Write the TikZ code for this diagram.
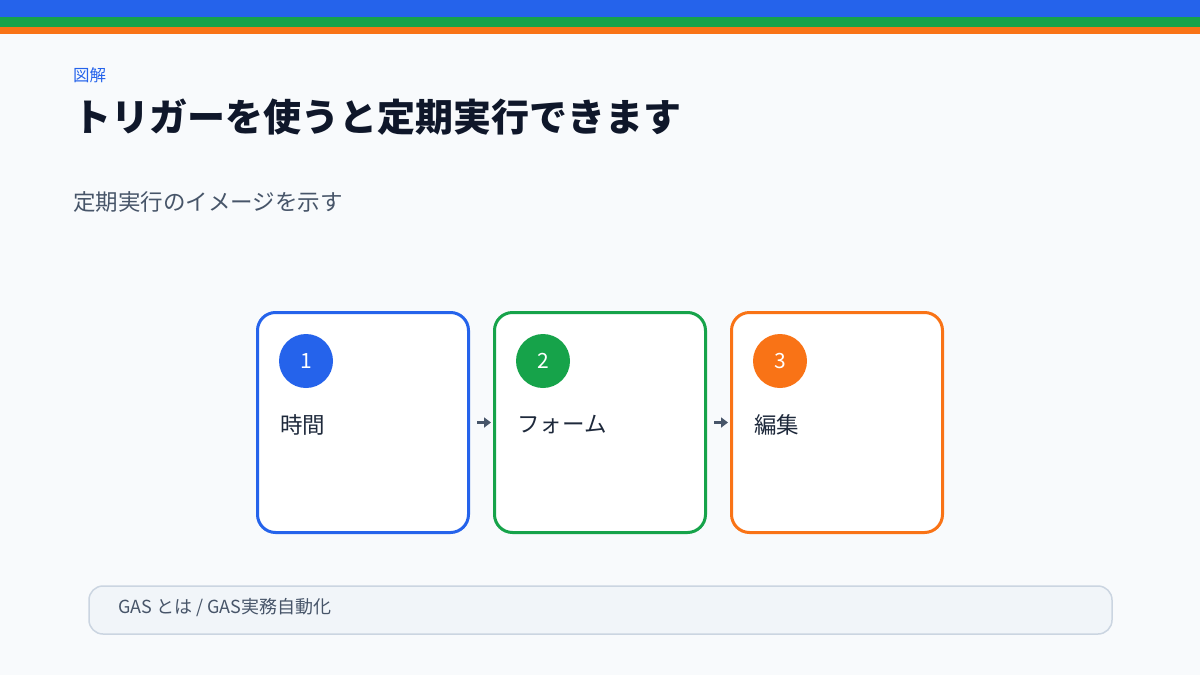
\documentclass[tikz,border=0pt]{standalone}
\usepackage{xcolor}
\usepackage{fontspec}
\setmainfont{Noto Sans CJK JP}
\usepackage{tikz}
\usetikzlibrary{arrows.meta}

\definecolor{bgcol}{HTML}{F8FAFC}
\definecolor{bluecol}{HTML}{2563EB}
\definecolor{greencol}{HTML}{16A34A}
\definecolor{orangecol}{HTML}{F97316}
\definecolor{inkcol}{HTML}{0F172A}
\definecolor{textcol}{HTML}{1E293B}
\definecolor{mutedcol}{HTML}{475569}
\definecolor{footfill}{HTML}{F1F5F9}
\definecolor{footline}{HTML}{CBD5E1}

\tikzset{
  stepbox/.style={draw=#1, fill=white, line width=3pt, rounded corners=18pt,
    minimum width=211pt, minimum height=220pt},
  stepnum/.style={circle, fill=#1, minimum size=54pt, inner sep=0pt,
    text=white, font=\fontsize{21}{25}\selectfont},
  steptxt/.style={anchor=west, inner sep=0pt, text=textcol,
    font=\fontsize{22.5}{27}\selectfont},
  arr/.style={draw=mutedcol, line width=2.5pt, shorten <=7pt, shorten >=2pt,
    -{Triangle[length=7pt,width=10pt]}}
}

\begin{document}
\begin{tikzpicture}[x=1pt,y=-1pt]
    \fill[bgcol] (0,0) rectangle (1200,675);
    \useasboundingbox (0,0) rectangle (1200,675);
    \fill[bluecol] (0,0) rectangle (1200,17);
    \fill[greencol] (0,17) rectangle (1200,27);
    \fill[orangecol] (0,27) rectangle (1200,34);

    \node[anchor=west, inner sep=0pt, text=bluecol,
    font=\fontsize{16.5}{20}\selectfont] (kicker) at (73,75) {図解};
    \node[anchor=west, inner sep=0pt, text=inkcol,
    font=\fontsize{38}{45}\selectfont\bfseries] (title) at (73,117)
    {トリガーを使うと定期実行できます};
    \node[anchor=west, inner sep=0pt, text=mutedcol,
    font=\fontsize{22.5}{27}\selectfont] (sub) at (73,202)
    {定期実行のイメージを示す};

    \node[stepbox=bluecol] (a) at (363,422.5) {};
    \node[stepnum=bluecol] (anum) at (306,361) {1};
    \node[steptxt] (atxt) at (280,425) {時間};

    \node[stepbox=greencol] (b) at (600,422.5) {};
    \node[stepnum=greencol] (bnum) at (543,361) {2};
    \node[steptxt] (btxt) at (517,425) {フォーム};

    \node[stepbox=orangecol] (c) at (837,422.5) {};
    \node[stepnum=orangecol] (cnum) at (780,361) {3};
    \node[steptxt] (ctxt) at (754,425) {編集};

    \draw[arr] (a.east) -- (b.west);
    \draw[arr] (b.east) -- (c.west);

    \node[draw=footline, fill=footfill, line width=1.5pt, rounded corners=14pt,
    minimum width=1023pt, minimum height=48pt] (foot) at (600.5,610) {};
    \node[anchor=west, inner sep=0pt, text=mutedcol,
    font=\fontsize{18}{22}\selectfont] (foottxt) at (118,608)
    {GAS とは / GAS実務自動化};
  \end{tikzpicture}
\end{document}
